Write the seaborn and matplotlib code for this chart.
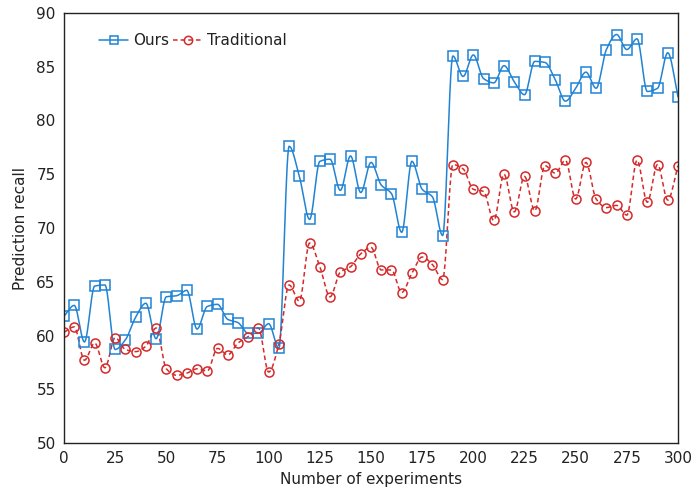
import numpy as np
import pandas as pd
import matplotlib
matplotlib.use("Agg")
import matplotlib.pyplot as plt
from matplotlib.lines import Line2D
import seaborn as sns

# data
experiments = list(range(0, 301, 5))
ours = [61.8, 62.8, 59.4, 64.6, 64.7, 58.7, 59.6, 61.7, 63.0, 59.7,
        63.6, 63.7, 64.2, 60.6, 62.7, 62.9, 61.5, 61.2, 60.2, 60.2,
        61.1, 58.8, 77.6, 74.8, 70.8, 76.2, 76.4, 73.5, 76.7, 73.3,
        76.1, 74.0, 73.2, 69.6, 76.2, 73.6, 72.9, 69.3, 86.0, 84.1,
        86.1, 83.9, 83.5, 85.1, 83.6, 82.4, 85.5, 85.4, 83.8, 81.8,
        83.0, 84.5, 83.0, 86.6, 88.0, 86.6, 87.6, 82.7, 83.0, 86.3,
        82.2]
traditional = [60.3, 60.8, 57.7, 59.3, 57.0, 59.8, 58.7, 58.5, 59.0, 60.7,
               56.9, 56.3, 56.5, 56.9, 56.7, 58.8, 58.2, 59.3, 59.9, 60.7,
               56.6, 59.2, 64.7, 63.2, 68.6, 66.4, 63.6, 65.9, 66.4, 67.6,
               68.2, 66.1, 66.1, 64.0, 65.8, 67.3, 66.6, 65.2, 75.9, 75.5,
               73.6, 73.4, 70.7, 75.0, 71.5, 74.8, 71.6, 75.8, 75.1, 76.3,
               72.7, 76.1, 72.7, 71.9, 72.1, 71.2, 76.3, 72.4, 75.9, 72.6,
               75.8]


def smooth(x, y, steps=30):
    # pchip-style curve through the points, for the connecting line only
    x = np.asarray(x, float)
    y = np.asarray(y, float)
    n = len(x)
    h = np.diff(x)
    s = np.diff(y) / h
    d = np.zeros(n)
    for k in range(1, n - 1):
        a, b = s[k - 1], s[k]
        if a * b > 0:
            w1 = 2 * h[k] + h[k - 1]
            w2 = h[k] + 2 * h[k - 1]
            d[k] = (w1 + w2) / (w1 / a + w2 / b)
    d[0] = s[0]
    d[-1] = s[-1]
    xs, ys = [], []
    for i in range(n - 1):
        t = np.linspace(0, 1, steps, endpoint=False)
        h00 = 2 * t ** 3 - 3 * t ** 2 + 1
        h10 = t ** 3 - 2 * t ** 2 + t
        h01 = -2 * t ** 3 + 3 * t ** 2
        h11 = t ** 3 - t ** 2
        xs.append(x[i] + t * h[i])
        ys.append(h00 * y[i] + h10 * h[i] * d[i] + h01 * y[i + 1] + h11 * h[i] * d[i + 1])
    xs.append([x[-1]])
    ys.append([y[-1]])
    return np.concatenate(xs), np.concatenate(ys)


sns.set_style("white")
plt.rcParams["font.family"] = ["DejaVu Sans"]

blue = "#2183d3"
red = "#d42a2a"

fig = plt.figure(figsize=(6.92, 5.01), dpi=100)
ax = fig.add_axes([64 / 692, 1 - 443 / 501, 614 / 692, 430 / 501])

df = pd.DataFrame({"x": experiments, "Ours": ours, "Traditional": traditional})

xs, ys = smooth(df["x"], df["Ours"])
sns.lineplot(x=xs, y=ys, ax=ax, color=blue, lw=1.1, sort=False)
xs, ys = smooth(df["x"], df["Traditional"])
sns.lineplot(x=xs, y=ys, ax=ax, color=red, lw=1.1, sort=False, linestyle=(0, (3, 2)))

ax.plot(df["x"], df["Ours"], ls="none", marker="s", ms=6.5, mfc="none", mec=blue, mew=1.1)
ax.plot(df["x"], df["Traditional"], ls="none", marker="o", ms=6.5, mfc="none", mec=red, mew=1.1)

ax.set_xlim(0, 300)
ax.set_ylim(50, 90)
ax.set_xticks(range(0, 301, 25))
ax.set_yticks(range(50, 91, 5))
ax.tick_params(axis="x", direction="in", length=4, width=1, colors="#222222", labelsize=11, pad=6)
ax.tick_params(axis="y", direction="in", length=0, colors="#222222", labelsize=11, pad=6)
for s in ax.spines.values():
    s.set_color("#222222")
    s.set_linewidth(1.0)

ax.set_xlabel("Number of experiments", fontsize=11, color="#222222", labelpad=4)
ax.set_ylabel("Prediction recall", fontsize=11, color="#222222", labelpad=6)

handles = [
    Line2D([], [], color=blue, lw=1.1, marker="s", ms=6, mfc="none", mec=blue, mew=1.1),
    Line2D([], [], color=red, lw=1.1, ls=(0, (3, 2)), marker="o", ms=6, mfc="none", mec=red, mew=1.1),
]
ax.legend(handles, ["Ours", "Traditional"], loc="upper left", ncol=2, frameon=False,
          fontsize=11, handlelength=1.9, handletextpad=0.3, columnspacing=0.3,
          bbox_to_anchor=(0.035, 0.985), labelcolor="#222222")

fig.savefig("out.png", dpi=100)
